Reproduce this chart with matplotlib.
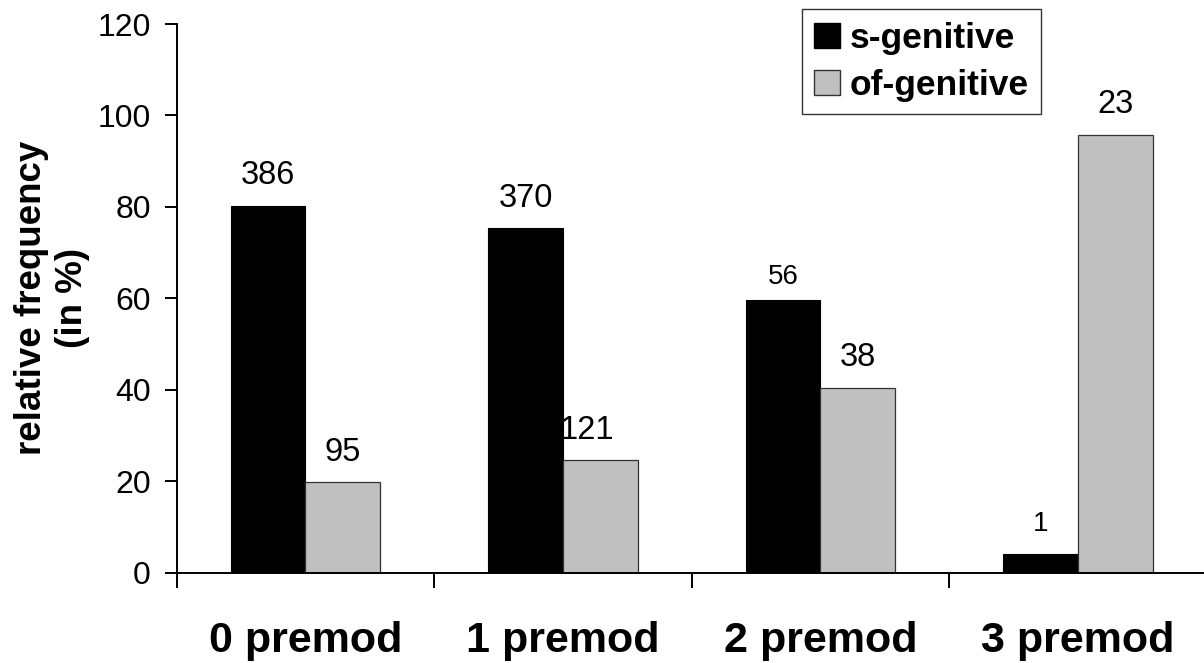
import matplotlib
matplotlib.use("Agg")
import matplotlib.pyplot as plt
from matplotlib.patches import Patch
import numpy as np

# ===== data =====
categories = ["0 premod", "1 premod", "2 premod", "3 premod"]
s_counts = [386, 370, 56, 1]
of_counts = [95, 121, 38, 23]
s_pct = [80.25, 75.36, 59.57, 4.17]
of_pct = [19.75, 24.64, 40.43, 95.83]
series_names = ["s-genitive", "of-genitive"]
y_ticks = [0, 20, 40, 60, 80, 100, 120]

plt.rcParams['font.family'] = ['Liberation Sans', 'DejaVu Sans']

fig = plt.figure(figsize=(12.04, 6.63), dpi=100)
ax = fig.add_axes([176.7 / 1204, 90.3 / 663, 1030 / 1204, 548.7 / 663])

x = np.arange(len(categories))
w = 0.29
bars_s = ax.bar(x - w / 2, s_pct, w, color='black', edgecolor='black', linewidth=0.8)
bars_of = ax.bar(x + w / 2, of_pct, w, color='#c0c0c0', edgecolor='#333333', linewidth=0.9)

# count labels above bars (two of them are set smaller in the original)
small = {("s", 2), ("s", 3)}
nudge = {("of", 1): -9.5}
for key, bars, counts in (("s", bars_s, s_counts), ("of", bars_of, of_counts)):
    for i, (b, c) in enumerate(zip(bars, counts)):
        is_small = (key, i) in small
        ax.annotate(str(c), (b.get_x() + b.get_width() / 2, b.get_height()),
                    xytext=(nudge.get((key, i), 0), 17 if is_small and i == 2 else 21.5),
                    textcoords='offset points', ha='center', va='center',
                    fontsize=20 if is_small else 23.5)

ax.set_xlim(-0.5, 3.5)
ax.set_ylim(0, 120)
ax.set_yticks(y_ticks)
ax.tick_params(axis='y', direction='out', length=8.6, width=1.4, labelsize=23, pad=10)

ax.set_xticks(x)
ax.set_xticklabels(categories, fontsize=31, fontweight='bold')
ax.set_xticks(np.arange(-0.5, 3.6, 1.0), minor=True)
ax.tick_params(axis='x', which='major', length=0, pad=35)
ax.tick_params(axis='x', which='minor', direction='out', length=11, width=1.4)

for side in ('top', 'right'):
    ax.spines[side].set_visible(False)
for side in ('left', 'bottom'):
    ax.spines[side].set_linewidth(1.4)

fig.text(52 / 1204, 1 - 298 / 663, "relative frequency\n(in %)", rotation=90,
         ha='center', va='center', multialignment='center', fontsize=26.5,
         fontweight='bold', linespacing=1.25)

handles = [Patch(facecolor='black', edgecolor='black'),
           Patch(facecolor='#c0c0c0', edgecolor='#333333')]
leg = fig.legend(handles, series_names, loc='upper left',
                 bbox_to_anchor=(801.7 / 1204, 1 - 9.3 / 663), borderaxespad=0,
                 prop={'weight': 'bold', 'size': 25.5}, fancybox=False, frameon=True,
                 handlelength=0.72, handleheight=0.72, handletextpad=0.28,
                 borderpad=0.35, labelspacing=0.4)
leg.get_frame().set_edgecolor('black')
leg.get_frame().set_linewidth(1.0)

plt.savefig("out.png", dpi=100)
